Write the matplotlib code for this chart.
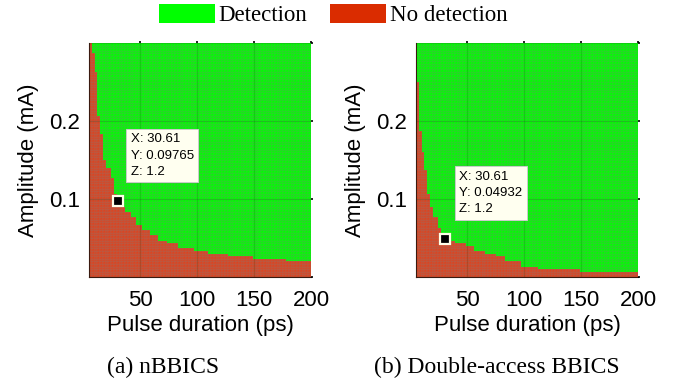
import numpy as np
import matplotlib
matplotlib.use('Agg')
import matplotlib.pyplot as plt
from matplotlib.colors import ListedColormap
from matplotlib.patches import Patch

# detection threshold per pulse duration: from dur[i] on, amplitude below thr[i] is not detected
dur_a = [5, 8.5, 10.3, 11.2, 12.3, 14.7, 16.2, 17.3, 20.5, 23.5, 26, 30, 36.6, 41, 47,
         52, 58.6, 67, 74, 83, 98, 111, 127, 149, 179]
thr_a = [0.300, 0.288, 0.265, 0.240, 0.208, 0.182, 0.163, 0.150, 0.141, 0.128, 0.108,
         0.090, 0.084, 0.076, 0.067, 0.060, 0.054, 0.047, 0.043, 0.038, 0.0325, 0.0295,
         0.026, 0.0227, 0.0197]

dur_b = [5, 7.6, 9.4, 11.8, 13.8, 15.5, 17.5, 20, 23.5, 27, 31.5, 38, 48, 56, 65, 74.6,
         83, 98, 112, 149]
thr_b = [0.249, 0.188, 0.160, 0.137, 0.124, 0.108, 0.090, 0.077, 0.064, 0.054, 0.048,
         0.043, 0.039, 0.034, 0.030, 0.026, 0.021, 0.0145, 0.0106, 0.0077]

# data tips
tip_a = (30.61, 0.09765, 1.2)
tip_b = (30.61, 0.04932, 1.2)

captions = ['(a) nBBICS', '(b) Double-access BBICS']

green = '#00FF00'
red = '#DC4420'
sans = 'Liberation Sans'
serif = 'Liberation Serif'

fig = plt.figure(figsize=(6.86, 3.83), dpi=100)

# simulation grid (pulse duration x amplitude)
d_edges = np.linspace(5, 200, 81)
a_edges = np.linspace(0, 0.3, 91)
d_mid = (d_edges[:-1] + d_edges[1:]) / 2
a_mid = (a_edges[:-1] + a_edges[1:]) / 2


def detection_map(dur, thr):
    idx = np.searchsorted(dur, d_mid, side='right') - 1
    limit = np.array(thr)[idx]
    return (a_mid[:, None] < limit[None, :]).astype(float)


def draw_panel(left, dur, thr, tip, tip_box, caption, cap_x):
    ax = fig.add_axes([left / 686, 106 / 383, 222 / 686, 234 / 383])
    z = detection_map(dur, thr)
    ax.pcolormesh(d_edges, a_edges, z, cmap=ListedColormap([green, red]), vmin=0, vmax=1,
                  edgecolors=(0.5, 0.5, 0.5, 0.13), linewidth=0.3)
    ax.set_xlim(5, 200)
    ax.set_ylim(0, 0.3)
    ax.set_xticks([50, 100, 150, 200])
    ax.set_yticks([0, 0.1, 0.2, 0.3])
    ax.set_yticklabels(['', '0.1', '0.2', ''])
    ax.grid(True, color='#0a3a0a', alpha=0.16, linewidth=0.9)
    ax.set_axisbelow(False)
    ax.tick_params(axis='x', direction='in', length=0, pad=8, labelsize=16)
    ax.tick_params(axis='y', direction='in', length=0, pad=5, labelsize=16)
    ax.tick_params(top=True, right=True, length=1.5, width=1.2, direction='out', which='major')
    ax.tick_params(bottom=False, left=False)
    for lab in ax.get_xticklabels() + ax.get_yticklabels():
        lab.set_fontfamily(sans)
    for s in ['top', 'right']:
        ax.spines[s].set_visible(False)
    ax.spines['left'].set_color('#3a1a10')
    ax.spines['bottom'].set_color('#3a1a10')
    ax.set_xlabel('Pulse duration (ps)', fontsize=16, family=sans, labelpad=3)
    ax.set_ylabel('Amplitude (mA)', fontsize=16, family=sans, labelpad=7)
    # data tip marker and label
    ax.plot(tip[0], tip[1], marker='s', markersize=7, color='black',
            markeredgecolor='#FFFFE8', markeredgewidth=1.6, zorder=5)
    ax.text(tip_box[0], tip_box[1],
            'X: %.2f\nY: %s\nZ: %.1f' % (tip[0], repr(tip[1]), tip[2]),
            fontsize=9.5, family=sans, va='top', ha='left', linespacing=1.45, zorder=6,
            bbox=dict(boxstyle='square,pad=0.35', fc='#FFFFF0', ec='#CCCCCC', lw=0.7))
    fig.text(cap_x / 686, 1 - 367 / 383, caption, fontsize=17, family=serif,
             ha='center', va='center')
    return ax


draw_panel(89, dur_a, thr_a, tip_a, (41.5, 0.184), captions[0], 163)
draw_panel(416, dur_b, thr_b, tip_b, (43, 0.136), captions[1], 497)

handles = [Patch(facecolor=green, edgecolor='none', label='Detection'),
           Patch(facecolor='#DA2C00', edgecolor='none', label='No detection')]
fig.legend(handles=handles, loc='center', bbox_to_anchor=(333 / 686, 1 - 15 / 383), ncol=2,
           frameon=False, prop={'family': serif, 'size': 16.5}, handlelength=2.45,
           handleheight=0.95, handletextpad=0.15, columnspacing=1.0, borderpad=0)

fig.savefig('out.png', dpi=100)
